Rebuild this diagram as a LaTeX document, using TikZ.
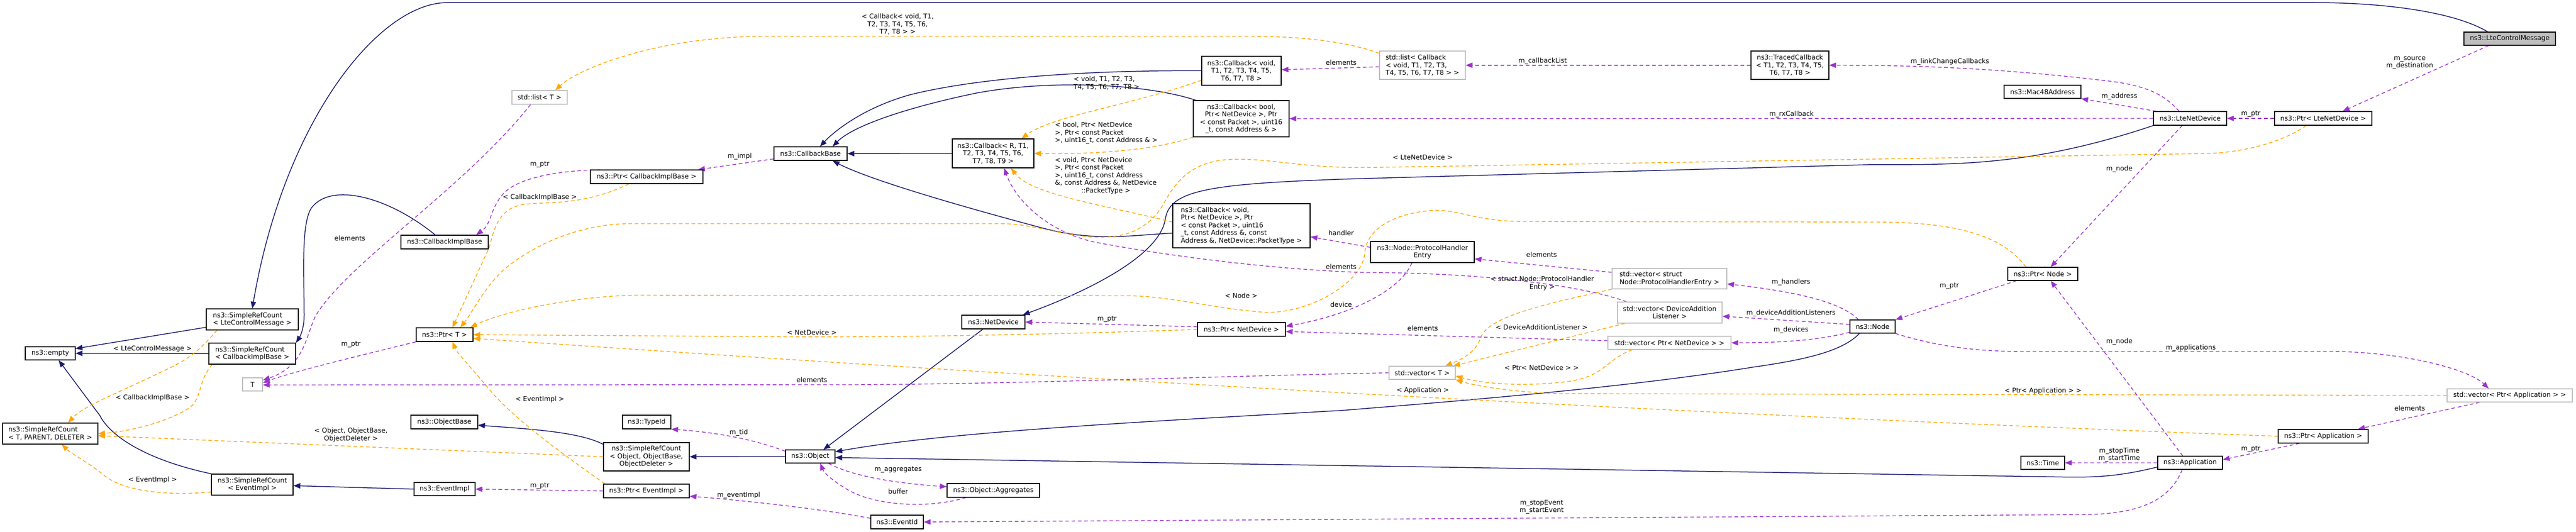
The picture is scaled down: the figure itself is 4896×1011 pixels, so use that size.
\documentclass[tikz,border=0pt]{standalone}
\usepackage{fontspec}
\setmainfont{DejaVu Sans}
\usetikzlibrary{arrows.meta,calc}
\definecolor{inh}{HTML}{191970}
\definecolor{tpl}{HTML}{FFA500}
\definecolor{usg}{HTML}{9A32CD}
\definecolor{grayb}{HTML}{BFBFBF}
\pgfdeclarelayer{bg}
\pgfsetlayers{bg,main}
\tikzset{
 txt/.style={font=\fontsize{12.6}{14.5}\selectfont},
 cls/.style={txt, draw=black, line width=1.3pt, fill=white, inner sep=0pt, align=center},
 ext/.style={cls, draw=grayb},
 lbl/.style={txt, inner sep=0pt, align=center},
 tip/.style={-{Triangle[length=13pt,width=10pt]}},
 inhe/.style={tip, draw=inh, fill=none, line width=1.5pt},
 tple/.style={tip, draw=tpl, line width=1.4pt, dash pattern=on 7pt off 5pt},
 usge/.style={tip, draw=usg, line width=1.4pt, dash pattern=on 7pt off 5pt},
}
\begin{document}
\begin{tikzpicture}[x=1pt,y=-1pt]
\useasboundingbox (0,0) rectangle (4896,1011);
% ---------- nodes ----------
\node[cls, fill=grayb, minimum width=174pt, minimum height=25pt] (lcm) at (4770,73.5) {ns3::LteControlMessage};
\node[cls, minimum width=175pt, minimum height=40pt, align=left] (srclcm) at (479.5,607) {ns3::SimpleRefCount\\< LteControlMessage >};
\node[cls, minimum width=165pt, minimum height=40pt, align=left] (srccib) at (479.5,672) {ns3::SimpleRefCount\\< CallbackImplBase >};
\node[cls, minimum width=95pt, minimum height=25pt] (empty) at (95.5,671.5) {ns3::empty};
\node[cls, minimum width=181pt, minimum height=40pt, align=left] (srctpd) at (95.5,824) {ns3::SimpleRefCount\\< T, PARENT, DELETER >};
\node[cls, minimum width=155pt, minimum height=40pt] (srcei) at (479.5,921) {ns3::SimpleRefCount\\< EventImpl >};
\node[ext, minimum width=38pt, minimum height=25pt] (T) at (480,730.5) {T};
\node[ext, minimum width=105pt, minimum height=26pt] (stdlistT) at (1025.5,185) {std::list< T >};
\node[cls, minimum width=166pt, minimum height=26pt] (cib) at (845,460) {ns3::CallbackImplBase};
\node[cls, minimum width=214pt, minimum height=26pt] (ptrcib) at (1229,336) {ns3::Ptr< CallbackImplBase >};
\node[cls, minimum width=139pt, minimum height=26pt] (cbbase) at (1540.5,292) {ns3::CallbackBase};
\node[cls, minimum width=108pt, minimum height=26pt] (ptrT) at (845,636) {ns3::Ptr< T >};
\node[cls, minimum width=127pt, minimum height=26pt] (objbase) at (844.5,802) {ns3::ObjectBase};
\node[cls, minimum width=92pt, minimum height=26pt] (typeid) at (1229,802) {ns3::TypeId};
\node[cls, minimum width=163pt, minimum height=54pt] (srcobj) at (1228.5,868) {ns3::SimpleRefCount\\< Object, ObjectBase,\\ObjectDeleter >};
\node[cls, minimum width=94pt, minimum height=25pt] (object) at (1540,867.5) {ns3::Object};
\node[cls, minimum width=116pt, minimum height=25pt] (eventimpl) at (845,929.5) {ns3::EventImpl};
\node[cls, minimum width=163pt, minimum height=26pt] (ptrei) at (1228.5,933) {ns3::Ptr< EventImpl >};
\node[cls, minimum width=151pt, minimum height=55pt] (cbvoid8) at (2359.5,134.5) {ns3::Callback< void,\\T1, T2, T3, T4, T5,\\T6, T7, T8 >};
\node[cls, minimum width=182pt, minimum height=69pt] (cbbool) at (2359,225.5) {ns3::Callback< bool,\\Ptr< NetDevice >, Ptr\\< const Packet >, uint16\\\_t, const Address \& >};
\node[cls, minimum width=155pt, minimum height=55pt] (cbR) at (1887.5,291.5) {ns3::Callback< R, T1,\\T2, T3, T4, T5, T6,\\T7, T8, T9 >};
\node[cls, minimum width=261pt, minimum height=84pt, align=left] (cbvoidptr) at (2359.5,429) {ns3::Callback< void,\\Ptr< NetDevice >, Ptr\\< const Packet >, uint16\\\_t, const Address \&, const\\Address \&, NetDevice::PacketType >};
\node[cls, minimum width=120pt, minimum height=26pt] (netdevice) at (1888,612) {ns3::NetDevice};
\node[cls, minimum width=167pt, minimum height=26pt] (ptrnd) at (2359.5,626) {ns3::Ptr< NetDevice >};
\node[cls, minimum width=176pt, minimum height=26pt] (aggregates) at (1888,932) {ns3::Object::Aggregates};
\node[cls, minimum width=100pt, minimum height=26pt] (eventid) at (1705,992) {ns3::EventId};
\node[ext, minimum width=163pt, minimum height=54pt, align=left] (stdlistcb) at (2703.5,124) {std::list< Callback\\< void, T1, T2, T3,\\T4, T5, T6, T7, T8 > >};
\node[cls, minimum width=148pt, minimum height=54pt] (traced) at (3402,124) {ns3::TracedCallback\\< T1, T2, T3, T4, T5,\\T6, T7, T8 >};
\node[cls, minimum width=197pt, minimum height=40pt] (phe) at (2703.5,479) {ns3::Node::ProtocolHandler\\Entry};
\node[ext, minimum width=218pt, minimum height=39pt, align=left] (vecphe) at (3173,529.5) {std::vector< struct\\Node::ProtocolHandlerEntry >};
\node[ext, minimum width=199pt, minimum height=40pt] (vecdal) at (3173.5,594) {std::vector< DeviceAddition\\Listener >};
\node[ext, minimum width=234pt, minimum height=25pt] (vecptrnd) at (3173,651.5) {std::vector< Ptr< NetDevice > >};
\node[ext, minimum width=126pt, minimum height=25pt] (vecT) at (2703,708.5) {std::vector< T >};
\node[cls, minimum width=86pt, minimum height=25pt] (node) at (3559,620.5) {ns3::Node};
\node[cls, minimum width=146pt, minimum height=25pt] (mac48) at (3882,174.5) {ns3::Mac48Address};
\node[cls, minimum width=139pt, minimum height=26pt] (ltend) at (4162.5,225) {ns3::LteNetDevice};
\node[cls, minimum width=185pt, minimum height=26pt] (ptrltend) at (4415.5,225) {ns3::Ptr< LteNetDevice >};
\node[cls, minimum width=133pt, minimum height=25pt] (ptrnode) at (3882.5,520.5) {ns3::Ptr< Node >};
\node[ext, minimum width=238pt, minimum height=25pt] (vecptrapp) at (4770,751.5) {std::vector< Ptr< Application > >};
\node[cls, minimum width=171pt, minimum height=26pt] (ptrapp) at (4415.5,829) {ns3::Ptr< Application >};
\node[cls, minimum width=123pt, minimum height=25pt] (application) at (4162.5,879.5) {ns3::Application};
\node[cls, minimum width=83pt, minimum height=25pt] (time) at (3882.5,879.5) {ns3::Time};
% ---------- labels ----------
\node[lbl] (lb1) at (290,663) {< LteControlMessage >};
\node[lbl] (lb2) at (290,756) {< CallbackImplBase >};
\node[lbl] (lb3) at (290,912) {< EventImpl >};
\node[lbl] (lb4) at (667,826.5) {< Object, ObjectBase,\\ObjectDeleter >};
\node[lbl] (lb5) at (665,453) {elements};
\node[lbl] (lb6) at (667,655) {m\_ptr};
\node[lbl] (lb7) at (1026,313) {m\_ptr};
\node[lbl] (lb8) at (1026,375) {< CallbackImplBase >};
\node[lbl] (lb9) at (1406,297) {m\_impl};
\node[lbl] (lb10) at (1543,632) {< NetDevice >};
\node[lbl] (lb11) at (1543,722) {elements};
\node[lbl] (lb12) at (1026,759) {< EventImpl >};
\node[lbl] (lb13) at (1404,822) {m\_tid};
\node[lbl] (lb14) at (1026,924) {m\_ptr};
\node[lbl] (lb15) at (1404,941) {m\_eventImpl};
\node[lbl] (lb16) at (1706,46) {< Callback< void, T1,\\T2, T3, T4, T5, T6,\\T7, T8 > >};
\node[lbl, align=left] (lb17) at (2103,158) {< void, T1, T2, T3,\\T4, T5, T6, T7, T8 >};
\node[lbl, align=left, anchor=west] (lb18) at (2005,253) {< bool, Ptr< NetDevice\\>, Ptr< const Packet\\>, uint16\_t, const Address \& >};
\node[lbl, align=left, anchor=west] (lb19) at (2005,334) {< void, Ptr< NetDevice\\>, Ptr< const Packet\\>, uint16\_t, const Address\\\&, const Address \&, NetDevice\\\hspace*{50pt}::PacketType >};
\node[lbl] (lb20) at (2549,119) {elements};
\node[lbl] (lb21) at (2549,443) {handler};
\node[lbl] (lb22) at (2104,607) {m\_ptr};
\node[lbl] (lb23) at (2359,562) {< Node >};
\node[lbl] (lb24) at (2549,579) {device};
\node[lbl] (lb25) at (2549,507) {elements};
\node[lbl] (lb26) at (1707,893) {m\_aggregates};
\node[lbl] (lb27) at (1707,934) {buffer};
\node[lbl] (lb28) at (2932,116) {m\_callbackList};
\node[lbl] (lb29) at (3405,217) {m\_rxCallback};
\node[lbl] (lb30) at (2704,299) {< LteNetDevice >};
\node[lbl] (lb31) at (2930,484) {elements};
\node[lbl] (lb32) at (2931,538.5) {< struct Node::ProtocolHandler\\Entry >};
\node[lbl] (lb33) at (2930,622) {< DeviceAdditionListener >};
\node[lbl] (lb34) at (2930,699) {< Ptr< NetDevice > >};
\node[lbl] (lb35) at (3404,536) {m\_handlers};
\node[lbl] (lb36) at (3404,595) {m\_deviceAdditionListeners};
\node[lbl] (lb37) at (3404,627) {m\_devices};
\node[lbl] (lb38) at (2704,624) {elements};
\node[lbl] (lb39) at (2704,742) {< Application >};
\node[lbl] (lb40) at (2930,963.5) {m\_stopEvent\\m\_startEvent};
\node[lbl] (lb41) at (3706,117) {m\_linkChangeCallbacks};
\node[lbl] (lb42) at (4028,183) {m\_address};
\node[lbl] (lb43) at (4278,217) {m\_ptr};
\node[lbl] (lb44) at (4580,119.5) {m\_source\\m\_destination};
\node[lbl] (lb45) at (4028,321) {m\_node};
\node[lbl] (lb46) at (3705,544) {m\_ptr};
\node[lbl] (lb47) at (4028,649) {m\_node};
\node[lbl] (lb48) at (4164,661) {m\_applications};
\node[lbl] (lb49) at (3883,743) {< Ptr< Application > >};
\node[lbl] (lb50) at (4580,776) {elements};
\node[lbl] (lb51) at (4278,854) {m\_ptr};
\node[lbl] (lb52) at (4028,864) {m\_stopTime\\m\_startTime};
% ---------- edges ----------
\begin{pgfonlayer}{bg}
\path[fill=white] (0,0) rectangle (4896,1011);
% inheritance
\draw[inhe] ($(lcm.north)+(-42,0)$) .. controls (4660,20) and (4520,5) .. (4400,5) -- (850,5) .. controls (720,5) and (540,230) .. (srclcm.north);
\draw[inhe] ($(srclcm.west)+(0,15)$) -- ($(empty.east)+(0,-9)$);
\draw[inhe] (srccib.west) -- (empty.east);
\draw[inhe] (srcei.north west) .. controls (260,870) and (205,820) .. (190,790) -- ($(empty.south)+(16,0)$);
\draw[inhe] ($(cib.north)+(-18,0)$) .. controls (740,375) and (630,345) .. (592,395) .. controls (572,425) and (578,520) .. (578,600) .. controls (578,625) and (570,640) .. (srccib.north east);
\draw[inhe] (cbvoid8.west) .. controls (2050,133) and (1850,150) .. (1730,180) .. controls (1640,205) and (1585,250) .. ($(cbbase.north)+(18,0)$);
\draw[inhe] ($(cbbool.north west)+(5,0)$) .. controls (2180,160) and (2000,150) .. (1855,177) .. controls (1720,205) and (1620,240) .. ($(cbbase.north)+(42,0)$);
\draw[inhe] (cbR.west) -- (cbbase.east);
\draw[inhe] ($(cbvoidptr.west)+(0,14)$) .. controls (2150,447) and (2080,460) .. (1980,433) .. controls (1800,385) and (1650,340) .. ($(cbbase.south)+(42,0)$);
\draw[inhe] (ltend.south west) .. controls (3850,320) and (3700,312) .. (3550,313) -- (2600,339) .. controls (2300,348) and (2225,360) .. (2215,415) .. controls (2205,490) and (2050,560) .. ($(netdevice.north)+(56,0)$);
\draw[inhe] ($(netdevice.south)+(-20,0)$) -- ($(object.north)+(25,0)$);
\draw[inhe] ($(node.south)+(-25,0)$) .. controls (3500,670) and (3420,685) .. (3330,698) .. controls (3100,735) and (2800,760) .. (2550,780) .. controls (2200,800) and (1800,820) .. ($(object.east)+(0,-9)$);
\draw[inhe] ($(application.west)+(0,8)$) .. controls (4010,910) and (3960,907) .. (3890,906) -- ($(object.east)+(0,2)$);
\draw[inhe] (object.west) -- (srcobj.east);
\draw[inhe] ($(srcobj.north west)+(0,4)$) .. controls (1100,820) and (1000,815) .. ($(objbase.east)+(0,6)$);
\draw[inhe] (eventimpl.west) -- ($(srcei.east)+(0,2)$);
% template instances
\draw[tple] ($(srclcm.south west)+(21,0)$) .. controls (380,665) and (360,683) .. (310,705) .. controls (230,745) and (160,770) .. ($(srctpd.north)+(34,0)$);
\draw[tple] ($(srccib.south west)+(7,0)$) .. controls (375,725) and (385,760) .. (357,777) .. controls (320,800) and (250,820) .. (srctpd.east);
\draw[tple] ($(srcei.west)+(0,14)$) .. controls (320,942) and (240,935) .. (200,905) .. controls (170,880) and (135,862) .. ($(srctpd.south)+(22,0)$);
\draw[tple] (srcobj.west) -- ($(srctpd.east)+(0,4)$);
\draw[tple] ($(ptrcib.south)+(-34,0)$) .. controls (1110,390) and (1050,383) .. (1000,388) .. controls (950,393) and (940,430) .. (930,470) -- ($(ptrT.north)+(15,0)$);
\draw[tple] ($(ptrltend.south)+(-32,0)$) .. controls (4330,275) and (4250,292) .. (4180,292) -- (2620,318) .. controls (2480,322) and (2420,300) .. (2340,303) .. controls (2260,306) and (2232,350) .. (2210,390) .. controls (2180,440) and (2130,455) .. (2070,450) .. controls (2000,443) and (1960,425) .. (1900,425) -- (1200,425) .. controls (1090,425) and (1000,475) .. (955,515) .. controls (920,548) and (900,590) .. ($(ptrT.north)+(30,0)$);
\draw[tple] ($(ptrnode.north)+(-32,0)$) .. controls (3800,440) and (3700,422) .. (3560,422) -- (2900,421) .. controls (2800,421) and (2770,396) .. (2720,400) .. controls (2640,407) and (2597,440) .. (2594,480) .. controls (2590,540) and (2480,600) .. (2397,593) .. controls (2300,585) and (2220,562) .. (2140,562) -- (1211,561) .. controls (1100,562) and (960,590) .. ($(ptrT.north east)+(-6,0)$);
\draw[tple] (ptrnd.west) .. controls (2000,636) and (1700,641) .. (1500,640) -- (ptrT.east);
\draw[tple] (ptrapp.west) .. controls (3000,780) and (1800,705) .. ($(ptrT.east)+(0,7)$);
\draw[tple] ($(ptrei.north west)+(3,0)$) .. controls (1080,870) and (980,800) .. (930,740) .. controls (890,692) and (868,670) .. ($(ptrT.south)+(15,0)$);
\draw[tple] ($(cbvoid8.west)+(0,18)$) .. controls (2150,200) and (2000,220) .. ($(cbR.north)+(54,0)$);
\draw[tple] (cbbool.south west) .. controls (2180,290) and (2050,293) .. (cbR.east);
\draw[tple] ($(cbvoidptr.west)+(0,-7)$) .. controls (2100,390) and (1960,370) .. ($(cbR.south)+(34,0)$);
\draw[tple] ($(stdlistcb.north west)+(0,5)$) .. controls (2550,75) and (2450,69) .. (2378,69) -- (1450,69) .. controls (1250,70) and (1100,130) .. ($(stdlistT.north)+(30,0)$);
\draw[tple] (vecphe.south west) .. controls (2950,575) and (2830,600) .. (2815,640) .. controls (2805,670) and (2780,682) .. ($(vecT.north)+(44,0)$);
\draw[tple] ($(vecdal.south west)+(15,0)$) -- ($(vecT.north)+(59,0)$);
\draw[tple] ($(vecptrnd.south)+(-71,0)$) .. controls (3050,685) and (3050,715) .. (2980,725) .. controls (2900,735) and (2820,730) .. ($(vecT.east)+(0,6)$);
\draw[tple] (vecptrapp.west) -- (2960,748) .. controls (2880,745) and (2810,735) .. (vecT.south east);
% usage
\draw[usge] ($(lcm.south)+(-40,0)$) -- ($(ptrltend.north)+(37,0)$);
\draw[usge] (ptrltend.west) -- (ltend.east);
\draw[usge] ($(ltend.north west)+(6,0)$) -- (mac48.south east);
\draw[usge] ($(ltend.north)+(-21,0)$) .. controls (4110,175) and (4070,160) .. (3990,152) .. controls (3800,130) and (3650,124) .. (traced.east);
\draw[usge] (ltend.west) -- (cbbool.east);
\draw[usge] ($(ltend.south)+(-15,0)$) -- ($(ptrnode.north)+(15,0)$);
\draw[usge] (traced.west) -- (stdlistcb.east);
\draw[usge] ($(stdlistcb.west)+(0,3)$) -- ($(cbvoid8.east)+(0,-2)$);
\draw[usge] ($(stdlistT.south)+(-17,0)$) .. controls (880,360) and (660,500) .. (600,600) .. controls (580,640) and (580,695) .. ($(T.east)+(0,-8)$);
\draw[usge] (ptrT.south west) .. controls (700,672) and (560,705) .. ($(T.east)+(0,-3)$);
\draw[usge] (vecT.west) .. controls (2300,715) and (1900,731) .. (1600,731) -- ($(T.east)+(0,1)$);
\draw[usge] ($(cbbase.west)+(0,10)$) -- ($(ptrcib.north east)+(-10,0)$);
\draw[usge] ($(ptrcib.north west)+(19,0)$) .. controls (1050,325) and (980,340) .. (955,370) .. controls (930,400) and (935,425) .. ($(cib.north)+(60,0)$);
\draw[usge] ($(ptrnd.west)+(0,-5)$) -- (netdevice.east);
\draw[usge] ($(phe.west)+(0,-9)$) -- ($(cbvoidptr.east)+(0,21)$);
\draw[usge] ($(phe.south)+(-20,0)$) .. controls (2660,555) and (2560,600) .. ($(ptrnd.east)+(0,-6)$);
\draw[usge] ($(vecphe.west)+(0,-12)$) -- ($(phe.east)+(0,13)$);
\draw[usge] ($(vecdal.north west)+(18,0)$) .. controls (3000,540) and (2800,518) .. (2600,518) .. controls (2450,514) and (2250,492) .. (2080,460) .. controls (1990,440) and (1930,380) .. ($(cbR.south)+(21,0)$);
\draw[usge] ($(vecptrnd.west)+(0,-4)$) -- ($(ptrnd.east)+(0,4)$);
\draw[usge] ($(node.north)+(-27,0)$) .. controls (3500,575) and (3420,555) .. ($(vecphe.east)+(0,10)$);
\draw[usge] ($(node.west)+(0,-4)$) -- ($(vecdal.east)+(0,7)$);
\draw[usge] ($(node.west)+(0,11)$) .. controls (3450,648) and (3380,651) .. (vecptrnd.east);
\draw[usge] ($(ptrnode.south)+(-50,0)$) -- (node.north east);
\draw[usge] ($(application.north)+(-14,0)$) -- ($(ptrnode.south)+(15,0)$);
\draw[usge] (node.south east) .. controls (3700,665) and (3790,668) .. (3850,668) -- (4430,668) .. controls (4560,668) and (4690,700) .. ($(vecptrapp.north)+(-40,0)$);
\draw[usge] ($(vecptrapp.south)+(-57,0)$) -- ($(ptrapp.north east)+(-20,0)$);
\draw[usge] ($(ptrapp.south)+(-45,0)$) -- ($(application.east)+(0,-6)$);
\draw[usge] (application.west) -- (time.east);
\draw[usge] ($(application.south)+(-15,0)$) .. controls (4120,960) and (4050,978) .. (3950,978) -- (eventid.east);
\draw[usge] ($(eventid.west)+(0,-7)$) .. controls (1550,965) and (1400,950) .. ($(ptrei.east)+(0,10)$);
\draw[usge] (ptrei.west) -- (eventimpl.east);
\draw[usge] ($(object.west)+(0,-10)$) .. controls (1420,830) and (1340,820) .. (typeid.south east);
\draw[usge] ($(object.south)+(35,0)$) .. controls (1620,905) and (1700,918) .. ($(aggregates.west)+(0,-7)$);
\draw[usge] ($(aggregates.south)+(-52,0)$) .. controls (1760,968) and (1660,960) .. (1610,930) .. controls (1585,915) and (1567,900) .. ($(object.south)+(19,0)$);
\end{pgfonlayer}
\end{tikzpicture}
\end{document}
